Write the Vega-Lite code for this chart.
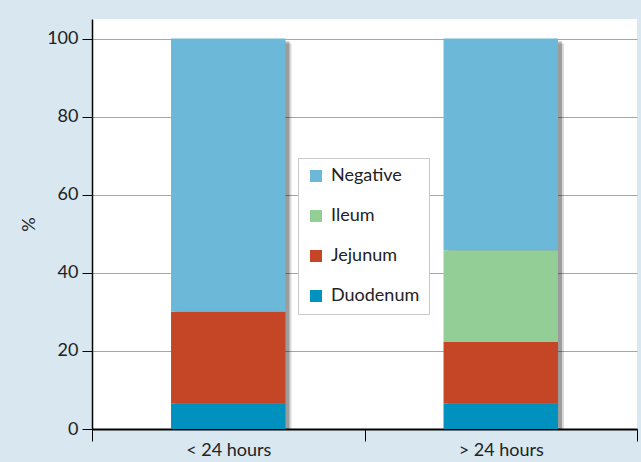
{
  "$schema": "https://vega.github.io/schema/vega-lite/v6.json",
  "autosize": "none",
  "width": 545,
  "height": 410,
  "padding": {"left": 92, "top": 19, "right": 4, "bottom": 33},
  "background": "#d8e7f0",
  "config": {
    "view": {"fill": "white", "stroke": null},
    "font": "Lato",
    "axis": {"labelFont": "Lato", "titleFont": "Lato", "labelColor": "#222", "titleColor": "#222"},
    "legend": {"labelFont": "Lato"}
  },
  "data": {
    "values": [
      {"time": "< 24 hours", "site": "Duodenum", "value": 6.6, "rank": 1},
      {"time": "< 24 hours", "site": "Jejunum", "value": 23.4, "rank": 2},
      {"time": "< 24 hours", "site": "Ileum", "value": 0, "rank": 3},
      {"time": "< 24 hours", "site": "Negative", "value": 70, "rank": 4},
      {"time": "> 24 hours", "site": "Duodenum", "value": 6.6, "rank": 1},
      {"time": "> 24 hours", "site": "Jejunum", "value": 15.7, "rank": 2},
      {"time": "> 24 hours", "site": "Ileum", "value": 23.5, "rank": 3},
      {"time": "> 24 hours", "site": "Negative", "value": 54.2, "rank": 4}
    ]
  },
  "encoding": {
    "x": {
      "field": "time", "type": "nominal", "title": null,
      "scale": {"paddingInner": 0, "paddingOuter": 0},
      "axis": {
        "labelAngle": 0, "tickBand": "extent", "tickSize": 12, "tickColor": "#000",
        "domainColor": "#000", "domainWidth": 2, "labelFontSize": 18, "labelPadding": 0,
        "grid": false
      }
    }
  },
  "layer": [
    {
      "mark": {"type": "bar", "color": "#000", "opacity": 0.15, "width": {"band": 0.42}, "xOffset": 6, "x2Offset": 6, "yOffset": 5, "y2Offset": 5, "clip": false},
      "encoding": {"y": {"field": "value", "type": "quantitative", "aggregate": "sum"}}
    },
    {
      "mark": {"type": "bar", "color": "#000", "opacity": 0.28, "width": {"band": 0.42}, "xOffset": 4, "x2Offset": 4, "yOffset": 3, "y2Offset": 3, "clip": false},
      "encoding": {"y": {"field": "value", "type": "quantitative", "aggregate": "sum"}}
    },
    {
      "mark": {"type": "bar", "width": {"band": 0.42}},
      "encoding": {
        "y": {
          "field": "value", "type": "quantitative", "stack": "zero", "title": "%",
          "scale": {"domain": [0, 105], "nice": false},
          "axis": {
            "values": [0, 20, 40, 60, 80, 100], "tickSize": 10, "tickColor": "#000",
            "domainColor": "#000", "domainWidth": 1.5, "labelFontSize": 18, "labelPadding": 4,
            "gridColor": "#a6a6a6", "gridWidth": 1, "titleFontSize": 18, "titleFontWeight": "normal",
            "titlePadding": 8
          }
        },
        "color": {
          "field": "site", "type": "nominal",
          "scale": {
            "domain": ["Negative", "Ileum", "Jejunum", "Duodenum"],
            "range": ["#6cb8d8", "#93ce96", "#c54626", "#0091bf"]
          },
          "legend": {
            "title": null, "orient": "none", "legendX": 206, "legendY": 139,
            "symbolType": "square", "symbolSize": 144, "symbolStrokeWidth": 0,
            "labelFontSize": 18, "labelColor": "#222", "labelOffset": 6, "rowPadding": 22,
            "padding": 9, "fillColor": "white", "strokeColor": "#c8c8c8",
            "labelLimit": 200
          }
        },
        "order": {"field": "rank", "type": "quantitative"}
      }
    }
  ]
}
